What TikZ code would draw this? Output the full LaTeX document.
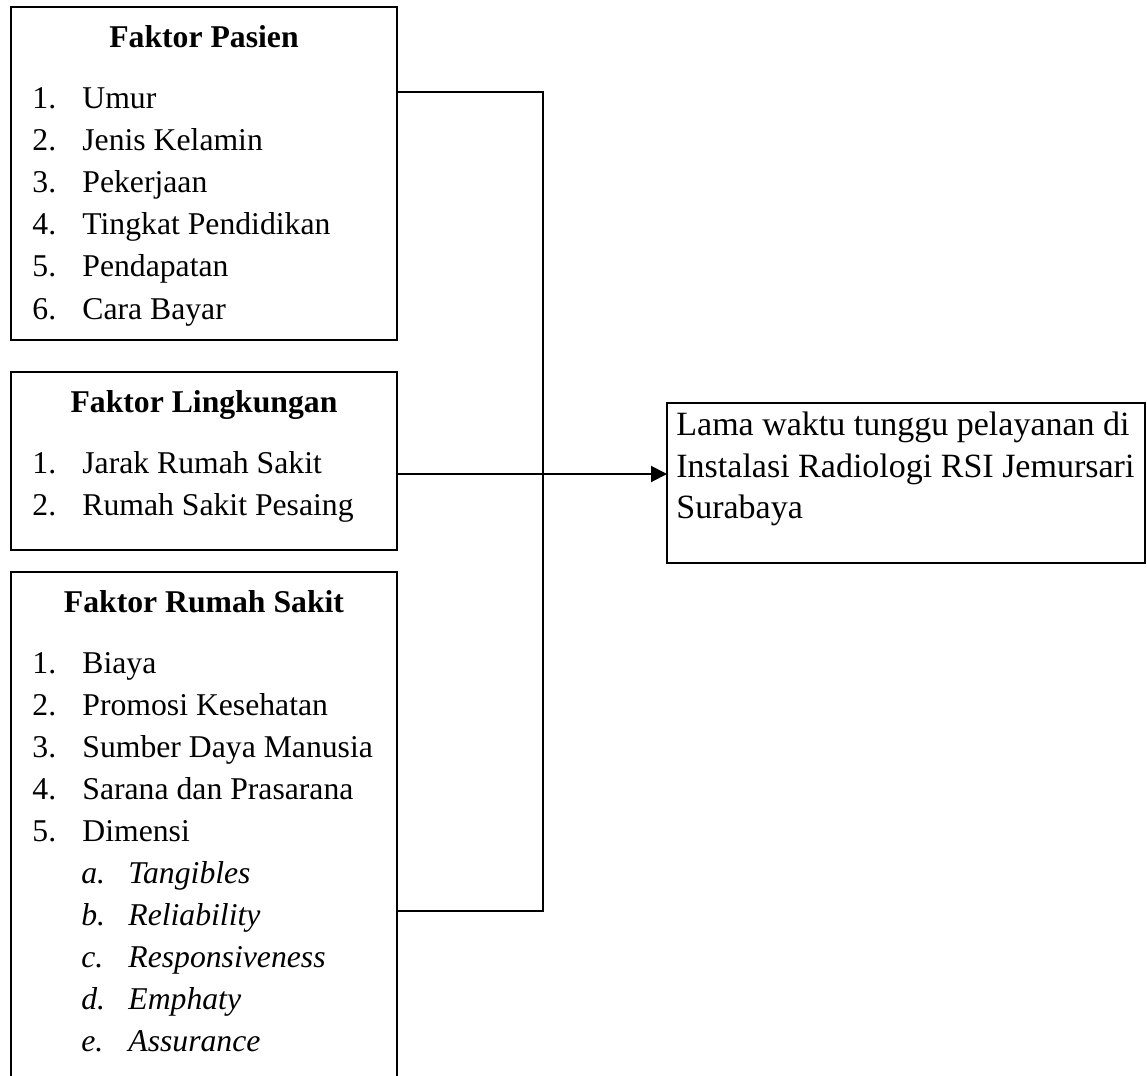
\documentclass[tikz,border=0pt]{standalone}
\usepackage{fontspec}
\setmainfont{Liberation Serif}
\usetikzlibrary{arrows.meta}
\tikzset{
  box/.style={draw, line width=1pt, inner sep=0pt, outer sep=0pt},
  conn/.style={line width=1pt},
  arrowtip/.style={-{Triangle[length=8pt,width=8pt]}},
  lfont/.style={font=\fontsize{15.85}{21}\selectfont},
  ttl/.style={lfont, font=\fontsize{15.85}{21}\selectfont\bfseries, anchor=base, inner sep=0pt},
  itm/.style={lfont, anchor=base west, inner sep=0pt},
  subitm/.style={lfont, font=\fontsize{15.85}{21}\selectfont\itshape, anchor=base west, inner sep=0pt},
  tgt/.style={font=\fontsize{17}{21}\selectfont, anchor=base west, inner sep=0pt},
}
\begin{document}
\begin{tikzpicture}[x=0.5pt,y=-0.5pt]
\useasboundingbox (0,0) rectangle (1147,1076);
\clip (0,0) rectangle (1147,1076);
% boxes
\node[box, minimum width=193pt, minimum height=166.5pt] (pbox) at (204,173.5) {};
\node[box, minimum width=193pt, minimum height=89pt] (lbox) at (204,461) {};
\node[box, minimum width=193pt, minimum height=274pt] (rbox) at (204,846) {};
\node[box, minimum width=239pt, minimum height=80pt] (tbox) at (906,483) {};
% Faktor Pasien
\node[ttl] (pt) at (204,47) {Faktor Pasien};
\foreach \t [count=\k] in {Umur, Jenis Kelamin, Pekerjaan, Tingkat Pendidikan, Pendapatan, Cara Bayar} {
  \node[itm] (pn\k) at (32,{108+42.2*(\k-1)}) {\k.};
  \node[itm] (pi\k) at (82,{108+42.2*(\k-1)}) {\t};
}
% Faktor Lingkungan
\node[ttl] (lt) at (204,412) {Faktor Lingkungan};
\foreach \t [count=\k] in {Jarak Rumah Sakit, Rumah Sakit Pesaing} {
  \node[itm] (ln\k) at (32,{473+42*(\k-1)}) {\k.};
  \node[itm] (li\k) at (82,{473+42*(\k-1)}) {\t};
}
% Faktor Rumah Sakit
\node[ttl] (rt) at (204,612) {Faktor Rumah Sakit};
\foreach \t [count=\k] in {Biaya, Promosi Kesehatan, Sumber Daya Manusia, Sarana dan Prasarana, Dimensi} {
  \node[itm] (rn\k) at (32,{673+42.1*(\k-1)}) {\k.};
  \node[itm] (ri\k) at (82,{673+42.1*(\k-1)}) {\t};
}
\foreach \l/\t [count=\k] in {a/Tangibles, b/Reliability, c/Responsiveness, d/Emphaty, e/Assurance} {
  \node[subitm] (sn\k) at (81,{883.5+42.1*(\k-1)}) {\l.};
  \node[subitm] (si\k) at (128,{883.5+42.1*(\k-1)}) {\t};
}
% target text
\node[tgt] (tt1) at (676,435) {Lama waktu tunggu pelayanan di};
\node[tgt] (tt2) at (676,477) {Instalasi Radiologi RSI Jemursari};
\node[tgt] (tt3) at (676,518) {Surabaya};
% connectors
\coordinate (jt) at (543,92);
\coordinate (jb) at (543,911);
\coordinate (ja) at (543,474);
\draw[conn] (pbox.east |- jt) -- (jt) -- (jb) -- (rbox.east |- jb);
\draw[conn, arrowtip] (lbox.east |- ja) -- (tbox.west |- ja);
\end{tikzpicture}
\end{document}
